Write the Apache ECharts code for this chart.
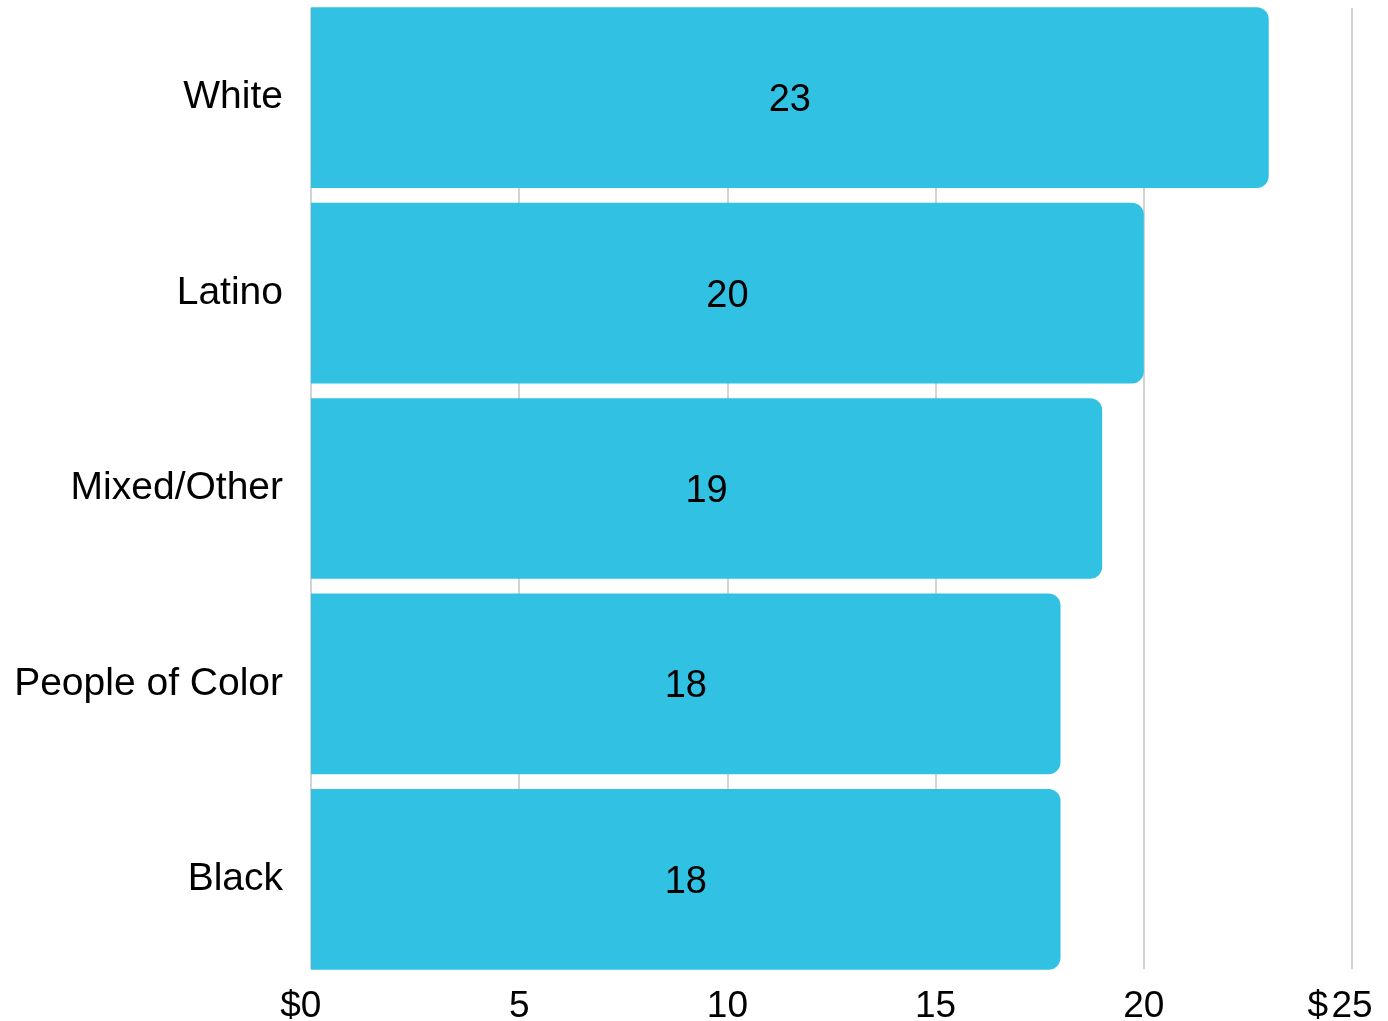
<!DOCTYPE html>
<html><head><meta charset="utf-8">
<script src="https://cdn.jsdelivr.net/npm/echarts@6/dist/echarts.min.js"></script>
<style>html,body{margin:0;padding:0;background:#fff}#c{width:1388px;height:1021px}</style>
</head><body><div id="c"></div>
<script>
const categories = ["White", "Latino", "Mixed/Other", "People of Color", "Black"];
const values = [23, 20, 19, 18, 18];
const tickValues = [0, 5, 10, 15, 20, 25];

const FONT = "'Liberation Sans', Arial, sans-serif";
const chart = echarts.init(document.getElementById('c'), null, {renderer: 'canvas'});
chart.setOption({
  animation: false,
  backgroundColor: '#ffffff',
  grid: [
    {left: 311, right: 36, top: 0, height: 977, containLabel: false, outerBoundsMode: 'none'},
    {left: 311, right: 36, top: 8, height: 961, containLabel: false, outerBoundsMode: 'none'}
  ],
  xAxis: [{
    type: 'value', min: 0, max: 25, interval: 5, gridIndex: 0,
    axisLine: {show: false}, axisTick: {show: false},
    splitLine: {show: false},
    axisLabel: {
      margin: 11, color: '#000', fontFamily: FONT, fontSize: 37, hideOverlap: false,
      formatter: function (v) {
        if (v === tickValues[0]) return '{h|$}' + v + '{s|$}';
        if (v === tickValues[tickValues.length - 1]) return '{h|$}{g| }' + v + '{s|$}{g| }';
        return String(v);
      },
      rich: {
        h: {color: '#000', fontFamily: FONT, fontSize: 37},
        g: {color: '#000', fontFamily: FONT, fontSize: 12},
        s: {color: 'rgba(0,0,0,0)', fontFamily: FONT, fontSize: 37}
      }
    }
  }, {
    type: 'value', min: 0, max: 25, interval: 5, gridIndex: 1,
    axisLine: {show: false}, axisTick: {show: false}, axisLabel: {show: false},
    splitLine: {show: true, lineStyle: {color: '#c4c4c4', width: 1.5}}
  }],
  yAxis: [{
    type: 'category', data: categories, inverse: true, gridIndex: 0,
    axisLine: {show: false}, axisTick: {show: false},
    axisLabel: {margin: 28, color: '#000', fontFamily: FONT, fontSize: 39}
  }, {
    type: 'category', data: categories, inverse: true, gridIndex: 1,
    axisLine: {show: false}, axisTick: {show: false}, axisLabel: {show: false},
    splitLine: {show: false}
  }],
  series: [{
    type: 'bar', data: values, barCategoryGap: '7.5%', xAxisIndex: 0, yAxisIndex: 0,
    itemStyle: {color: '#31C1E2', borderRadius: [0, 12, 12, 0]},
    label: {show: true, position: 'inside', color: '#000', fontFamily: FONT, fontSize: 38, offset: [0, 3]}
  }]
});
</script></body></html>
